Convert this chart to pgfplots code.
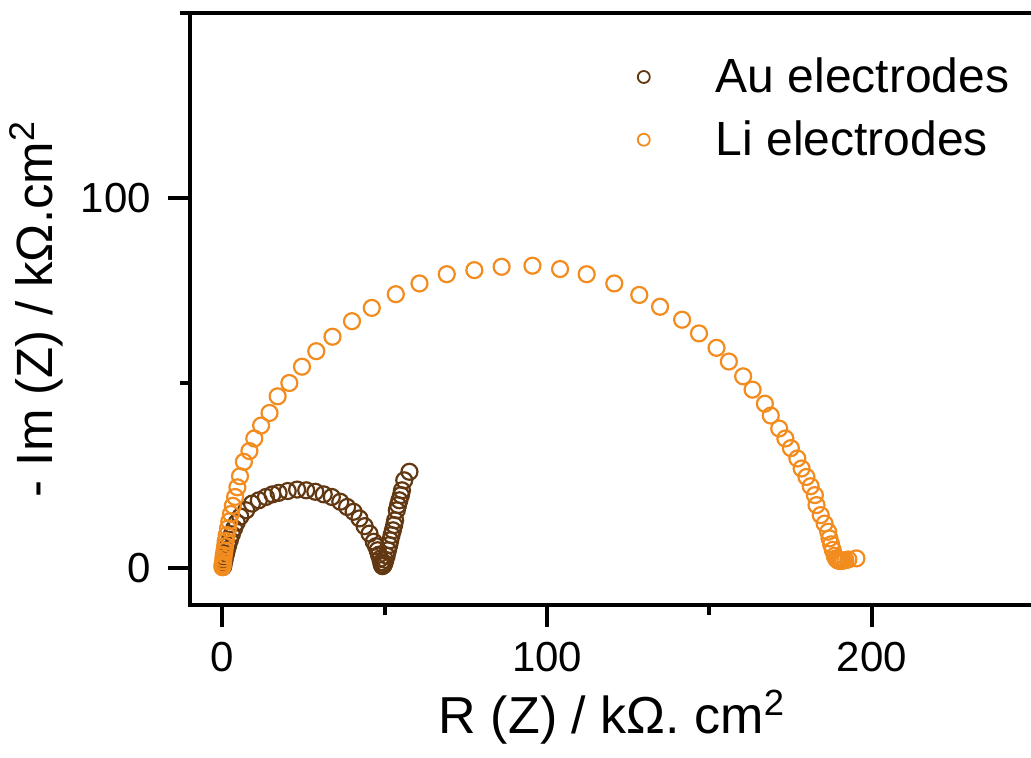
\documentclass[border=0pt]{standalone}
\usepackage{fontspec}
\setmainfont{Liberation Sans}
\usepackage{pgfplots}
\pgfplotsset{compat=1.18}
\definecolor{aucol}{RGB}{98,56,18}
\definecolor{licol}{RGB}{243,140,30}
\begin{document}
\begin{tikzpicture}
\useasboundingbox (-95pt,-76.5pt) rectangle (420.5pt,302.5pt);
\begin{axis}[
  at={(0,0)}, anchor=south west,
  scale only axis, width=422pt, height=296pt,
  xmin=-10, xmax=250, ymin=-10, ymax=150,
  axis line style={line width=2pt},
  xtick pos=lower, ytick pos=left,
  tick align=outside,
  xtick={0,100,200}, minor xtick={50,150,250},
  ytick={0,100}, minor ytick={50,150},
  major tick length=11pt, minor tick length=5pt,
  every tick/.style={line width=2pt, black},
  /pgf/number format/assume math mode=true,
  tick label style={font=\fontsize{21}{21}\selectfont},
  xticklabel style={yshift=-4pt},
  yticklabel style={xshift=-5pt},
  xlabel={R (Z) / kΩ. cm\textsuperscript{2}},
  ylabel={- Im (Z) / kΩ.cm\textsuperscript{2}},
  xlabel style={at={(axis description cs:0.5,-0.19)}, anchor=center, font=\fontsize{26}{26}\selectfont},
  ylabel style={at={(axis description cs:-0.182,0.5)}, anchor=center, font=\fontsize{25.5}{25.5}\selectfont},
  legend style={draw=none, fill=none, at={(axis description cs:0.523,0.938)}, anchor=north west, font=\fontsize{24}{28}\selectfont, legend cell align=left, row sep=8.5pt},
  legend image code/.code={\draw[mark=o, mark size=3pt, line width=0.9pt, mark options={solid}] plot coordinates {(0pt,0pt)}; \path[draw=none] (0pt,0pt) -- (34pt,0pt);},
]
\addplot[only marks, mark=o, mark size=4pt, mark options={line width=1.1pt}, color=aucol] coordinates {
(0.2,0.3)(0.3,0.8)(0.4,1.4)(0.6,2.1)(0.8,2.9)(1.1,3.9)(1.4,5.0)(1.8,6.2)(2.3,7.6)(2.9,9.1)(3.6,10.7)(4.4,12.3)(5.5,13.9)(7.3,15.6)(9.1,17.4)(11.2,18.3)(13.4,19.2)(15.4,19.9)(17.3,20.3)(20.1,20.8)(23.0,21.2)(25.8,21.0)(28.6,20.6)(31.2,19.9)(33.7,19.2)(36.3,17.9)(38.4,16.5)(40.4,15.2)(42.2,13.4)(43.8,11.3)(45.3,9.3)(46.6,7.1)(47.3,5.9)(47.8,4.8)(48.2,3.6)(48.6,2.5)(48.9,1.5)(49.1,0.8)(49.3,0.5)(49.6,0.7)(49.9,1.3)(50.2,2.2)(50.6,3.3)(51.0,4.8)(51.4,6.2)(51.7,7.5)(52.1,8.9)(52.5,10.2)(52.9,11.6)(53.2,12.9)(53.7,15.6)(54.1,17.0)(54.5,18.3)(55.0,19.7)(55.3,21.0)(56.0,23.7)(57.6,26.0)
};
\addlegendentry{Au electrodes}
\addplot[only marks, mark=o, mark size=4pt, mark options={line width=1.1pt}, color=licol] coordinates {
(0.0,0.2)(0.0,0.6)(0.1,1.1)(0.2,1.8)(0.3,2.6)(0.4,3.5)(0.6,4.6)(0.8,5.9)(1.0,7.3)(1.3,8.9)(1.7,10.7)(2.1,12.6)(2.6,14.6)(3.2,16.8)(3.9,19.2)(4.6,21.8)(5.4,24.8)(6.6,28.7)(8.3,31.6)(9.8,35.0)(11.9,38.5)(14.5,41.9)(17.0,46.4)(20.6,50.0)(24.5,54.4)(28.9,58.6)(33.9,62.5)(39.9,66.7)(46.0,70.3)(53.4,74.0)(60.7,76.9)(69.1,79.4)(77.6,80.5)(86.0,81.4)(95.5,81.7)(104.0,80.8)(112.2,79.4)(120.7,76.9)(128.4,73.8)(134.8,70.6)(141.6,67.1)(146.8,63.4)(152.2,59.5)(156.0,55.8)(160.4,51.8)(163.3,48.2)(167.1,44.4)(168.9,41.2)(171.5,37.7)(173.4,35.0)(175.1,32.4)(177.1,29.6)(178.4,26.9)(179.9,24.6)(181.2,22.1)(182.5,19.7)(183.0,17.0)(184.3,14.3)(185.5,12.0)(186.6,9.8)(187.0,8.0)(187.5,6.4)(188.0,4.9)(188.6,3.3)(189.0,2.6)(189.3,2.2)(189.7,2.0)(190.1,1.9)(190.6,1.9)(191.2,2.0)(191.9,2.1)(192.8,2.3)(195.3,2.6)
};
\addlegendentry{Li electrodes}
\end{axis}
\end{tikzpicture}
\end{document}
